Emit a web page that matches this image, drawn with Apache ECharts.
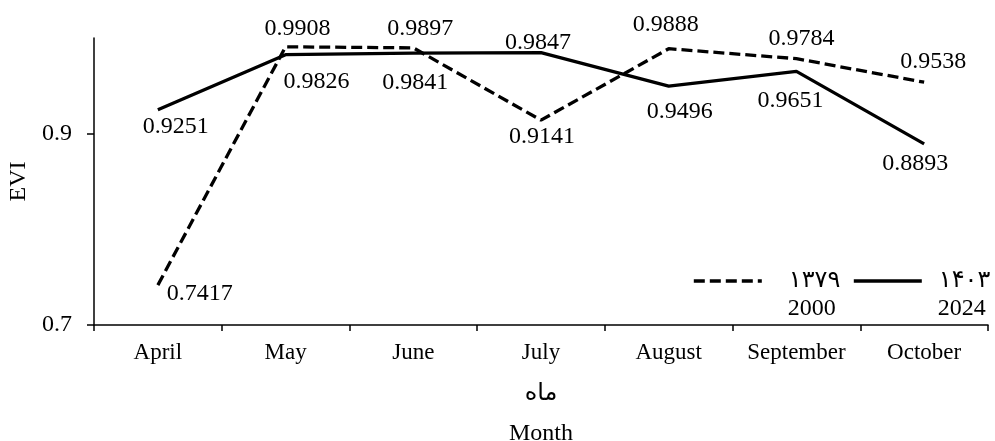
<!DOCTYPE html>
<html>
<head>
<meta charset="utf-8">
<script src="https://cdn.jsdelivr.net/npm/echarts@6/dist/echarts.min.js"></script>
<style>
html,body{margin:0;padding:0;background:#fff;}
#chart{width:995px;height:441px;}
</style>
</head>
<body>
<div id="chart"></div>
<script>
const categories = ['April', 'May', 'June', 'July', 'August', 'September', 'October'];
const evi2000 = [0.7417, 0.9908, 0.9897, 0.9141, 0.9888, 0.9784, 0.9538];
const evi2024 = [0.9251, 0.9826, 0.9841, 0.9847, 0.9496, 0.9651, 0.8893];
const seriesNames = ['۱۳۷۹', '۱۴۰۳'];
const seriesYears = ['2000', '2024'];
const yTickLabels = [0.7, 0.9];
const yAxisName = 'EVI';
const xAxisName = 'ماه\nMonth';

// label offsets (style, not data)
const off2000 = [[42, 9], [12, -18], [7, -19], [1, 17], [-3, -24], [5, -20], [9, -20]];
const off2024 = [[18, 17], [31, 27], [2, 29], [-3, -10], [11, 25], [-6, 29], [-9, 20]];
const legendLeft = [692, 852];
const legendTextPad = [22, 12];
const legendDash = [[11, 5], 'solid'];

const FONT = "'Liberation Serif', 'Times New Roman', 'DejaVu Serif', 'DejaVu Sans', serif";
const FS = 24;
const FS_CAT = 23;

function buildData(values, offsets) {
  return values.map((v, i) => ({
    value: v,
    label: { offset: offsets[i] }
  }));
}

const chart = echarts.init(document.getElementById('chart'), null, { renderer: 'canvas' });
const labelCommon = {
  show: true,
  position: 'inside',
  align: 'center',
  verticalAlign: 'middle',
  color: '#000',
  fontFamily: FONT,
  fontSize: FS,
  formatter: p => p.value.toFixed(4)
};

const legends = seriesNames.map((n, i) => ({
  left: legendLeft[i],
  top: 241,
  padding: 0,
  itemWidth: 68,
  itemHeight: 14,
  data: [n],
  lineStyle: { width: 3.6, color: '#000', type: legendDash[i] },
  itemStyle: { color: 'transparent', borderWidth: 0 },
  formatter: name => '{e| }\n{a|' + name + '}\n{b|' + seriesYears[i] + '}',
  textStyle: {
    fontFamily: FONT,
    color: '#000',
    rich: {
      e: { fontSize: FS, lineHeight: 28, padding: [0, 0, 0, legendTextPad[i]], fontFamily: FONT },
      a: { fontSize: FS, lineHeight: 28, padding: [0, 0, 0, legendTextPad[i]], fontFamily: FONT, color: '#000' },
      b: { fontSize: FS, lineHeight: 28, padding: [0, 0, 0, legendTextPad[i] - 1], fontFamily: FONT, color: '#000' }
    }
  }
}));

chart.setOption({
  animation: false,
  backgroundColor: '#fff',
  textStyle: { fontFamily: FONT, color: '#000' },
  grid: { left: 94, right: 7, top: 38, bottom: 116, containLabel: false, outerBoundsMode: 'none' },
  legend: legends,
  xAxis: {
    type: 'category',
    data: categories,
    boundaryGap: true,
    name: xAxisName,
    nameLocation: 'middle',
    nameGap: 49,
    nameTextStyle: { fontFamily: FONT, fontSize: FS, color: '#000', lineHeight: 40, align: 'center' },
    axisLine: { show: true, lineStyle: { color: '#000', width: 1.5 } },
    axisTick: { show: true, interval: 0, length: 6, lineStyle: { color: '#000', width: 1.5 } },
    axisLabel: { interval: 0, hideOverlap: false, fontFamily: FONT, fontSize: FS_CAT, color: '#000', margin: 16 },
    splitLine: { show: false }
  },
  yAxis: {
    type: 'value',
    min: 0.7,
    max: 1.0,
    interval: 0.1,
    name: yAxisName,
    nameLocation: 'middle',
    nameGap: 63,
    nameRotate: 90,
    nameTextStyle: { fontFamily: FONT, fontSize: FS, color: '#000' },
    axisLine: { show: true, lineStyle: { color: '#000', width: 1.5 } },
    axisTick: { show: true, length: 7, customValues: yTickLabels, lineStyle: { color: '#000', width: 1.5 } },
    axisLabel: { fontFamily: FONT, fontSize: FS, color: '#000', margin: 22, customValues: yTickLabels, formatter: v => String(v) },
    splitLine: { show: false }
  },
  series: [
    {
      name: seriesNames[0],
      type: 'line',
      data: buildData(evi2000, off2000),
      symbol: 'circle',
      symbolSize: 2,
      showSymbol: true,
      itemStyle: { color: 'transparent', borderWidth: 0 },
      lineStyle: { color: '#000', width: 3.3, type: [11, 5] },
      label: labelCommon,
      z: 3
    },
    {
      name: seriesNames[1],
      type: 'line',
      data: buildData(evi2024, off2024),
      symbol: 'circle',
      symbolSize: 2,
      showSymbol: true,
      itemStyle: { color: 'transparent', borderWidth: 0 },
      lineStyle: { color: '#000', width: 3.3, type: 'solid' },
      label: labelCommon,
      z: 3
    }
  ]
});
</script>
</body>
</html>
